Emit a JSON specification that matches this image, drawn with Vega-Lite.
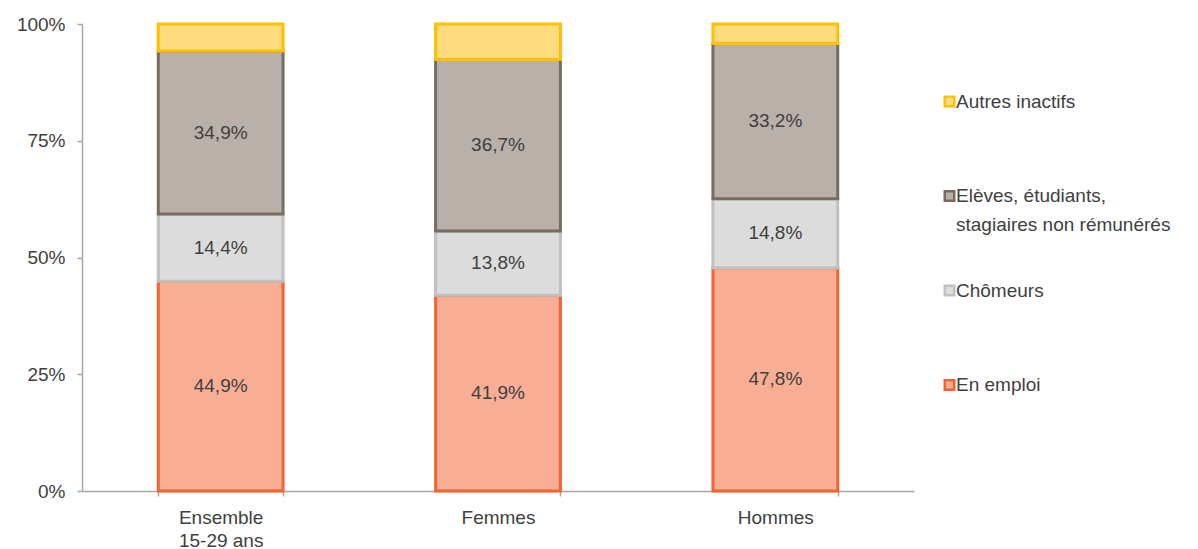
{
  "$schema": "https://vega.github.io/schema/vega-lite/v6.json",
  "autosize": "none",
  "width": 832,
  "height": 467,
  "padding": {"left": 82, "top": 24, "right": 284, "bottom": 58},
  "background": "white",
  "config": {
    "view": {"stroke": null},
    "font": "Liberation Sans",
    "style": {"guide-label": {"lineHeight": 29}},
    "locale": {"number": {"decimal": ",", "thousands": " ", "grouping": [3], "currency": ["", " €"]}}
  },
  "data": {
    "values": [
      {"groupe": "Ensemble 15-29 ans", "statut": "En emploi", "part": 0.449},
      {"groupe": "Ensemble 15-29 ans", "statut": "Chômeurs", "part": 0.144},
      {"groupe": "Ensemble 15-29 ans", "statut": "Elèves, étudiants, stagiaires non rémunérés", "part": 0.349},
      {"groupe": "Ensemble 15-29 ans", "statut": "Autres inactifs", "part": 0.058},
      {"groupe": "Femmes", "statut": "En emploi", "part": 0.419},
      {"groupe": "Femmes", "statut": "Chômeurs", "part": 0.138},
      {"groupe": "Femmes", "statut": "Elèves, étudiants, stagiaires non rémunérés", "part": 0.367},
      {"groupe": "Femmes", "statut": "Autres inactifs", "part": 0.076},
      {"groupe": "Hommes", "statut": "En emploi", "part": 0.478},
      {"groupe": "Hommes", "statut": "Chômeurs", "part": 0.148},
      {"groupe": "Hommes", "statut": "Elèves, étudiants, stagiaires non rémunérés", "part": 0.332},
      {"groupe": "Hommes", "statut": "Autres inactifs", "part": 0.042}
    ]
  },
  "transform": [
    {"calculate": "indexof(['En emploi','Chômeurs','Elèves, étudiants, stagiaires non rémunérés','Autres inactifs'], datum.statut)", "as": "rang"},
    {"stack": "part", "groupby": ["groupe"], "sort": [{"field": "rang", "order": "ascending"}], "as": ["y0", "y1"]},
    {"calculate": "(datum.y0 + datum.y1) / 2", "as": "ymid"}
  ],
  "encoding": {
    "x": {
      "field": "groupe",
      "type": "nominal",
      "title": null,
      "scale": {"paddingInner": 0.55, "paddingOuter": 0.275},
      "axis": {
        "labelAngle": 0,
        "labelExpr": "datum.label == 'Ensemble 15-29 ans' ? ['Ensemble', '15-29 ans'] : datum.label",
        "labelFontSize": 19,
        "labelColor": "#404040",
        "labelPadding": 12,
        "labelLineHeight": 23,
        "domainColor": "#A6A6A6",
        "domainWidth": 1.5,
        "tickColor": "#A6A6A6",
        "tickWidth": 1.5,
        "tickSize": 5,
        "tickBand": "extent",
        "grid": false
      }
    }
  },
  "layer": [
    {
      "mark": {"type": "bar", "strokeWidth": 3},
      "encoding": {
        "y": {
          "field": "y0",
          "type": "quantitative",
          "title": null,
          "scale": {"domain": [0, 1]},
          "axis": {
            "values": [0, 0.25, 0.5, 0.75, 1],
            "format": ".0%",
            "labelFontSize": 19,
            "labelColor": "#404040",
            "labelPadding": 12,
            "labelLineHeight": 19,
            "domainColor": "#A6A6A6",
            "domainWidth": 1.5,
            "tickColor": "#A6A6A6",
            "tickWidth": 1.5,
            "tickSize": 5,
            "grid": false
          }
        },
        "y2": {"field": "y1"},
        "fill": {
          "field": "statut",
          "type": "nominal",
          "scale": {
            "domain": ["Autres inactifs", "Elèves, étudiants, stagiaires non rémunérés", "Chômeurs", "En emploi"],
            "range": ["#FFDB7F", "#B8B0A9", "#DCDCDC", "#F8AD95"]
          },
          "legend": {
            "title": null,
            "orient": "none",
            "legendX": 858,
            "legendY": 68,
            "symbolType": "square",
            "symbolSize": 90,
            "symbolStrokeWidth": 2.5,
            "labelFontSize": 19,
            "labelColor": "#404040",
            "labelOffset": -3,
            "labelLimit": 400,
            "gridAlign": "all",
            "rowPadding": 44.5,
            "labelExpr": "datum.label == 'Elèves, étudiants, stagiaires non rémunérés' ? ['Elèves, étudiants,', 'stagiaires non rémunérés'] : datum.label"
          }
        },
        "stroke": {
          "field": "statut",
          "type": "nominal",
          "scale": {
            "domain": ["Autres inactifs", "Elèves, étudiants, stagiaires non rémunérés", "Chômeurs", "En emploi"],
            "range": ["#FFC000", "#786C60", "#C0C0C0", "#F26430"]
          },
          "legend": {
            "title": null,
            "orient": "none",
            "legendX": 858,
            "legendY": 68,
            "symbolType": "square",
            "symbolSize": 90,
            "symbolStrokeWidth": 2.5,
            "labelFontSize": 19,
            "labelColor": "#404040",
            "labelOffset": -3,
            "labelLimit": 400,
            "gridAlign": "all",
            "rowPadding": 44.5,
            "labelExpr": "datum.label == 'Elèves, étudiants, stagiaires non rémunérés' ? ['Elèves, étudiants,', 'stagiaires non rémunérés'] : datum.label"
          }
        }
      }
    },
    {
      "transform": [{"filter": "datum.statut != 'Autres inactifs'"}],
      "mark": {"type": "text", "fontSize": 19, "color": "#404040", "baseline": "middle"},
      "encoding": {
        "y": {"field": "ymid", "type": "quantitative"},
        "text": {"field": "part", "type": "quantitative", "format": ".1%"}
      }
    }
  ]
}
